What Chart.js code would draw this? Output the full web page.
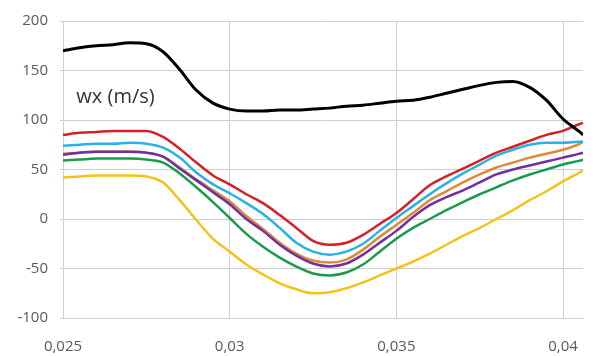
<!DOCTYPE html>
<html>
<head>
<meta charset="utf-8">
<script src="https://cdn.jsdelivr.net/npm/chart.js@4/dist/chart.umd.min.js"></script>
<style>
  html, body { margin: 0; padding: 0; background: #fff; }
  #wrap { width: 598px; height: 356px; }
</style>
</head>
<body>
<div id="wrap"><canvas id="chart" width="598" height="356"></canvas></div>
<script>
// x positions (s) shared by every series
const xValues = [
  0.025, 0.0255, 0.026, 0.0265, 0.027, 0.0275, 0.028, 0.0285, 0.029, 0.0295,
  0.03, 0.0305, 0.031, 0.0315, 0.032, 0.0325, 0.033, 0.0335, 0.034, 0.0345,
  0.035, 0.0355, 0.036, 0.0365, 0.037, 0.0375, 0.038, 0.0385, 0.039, 0.0395,
  0.04, 0.0405, 0.0406
];

const blackVals = [170, 173, 175, 176, 178, 177, 169, 151, 130, 117, 111, 109, 109, 110, 110, 111, 112, 114, 115, 117, 119, 120, 123, 127, 131, 135, 138, 139, 133, 120, 101, 88, 85];
const redVals = [85, 87, 88, 89, 89, 89, 83, 71, 57, 44, 35, 25, 16, 4, -9, -22, -26, -24, -16, -5, 6, 20, 34, 43, 51, 59, 67, 73, 79, 85, 89, 96, 97];
const cyanVals = [74, 75, 76, 76, 77, 76, 72, 62, 47, 35, 26, 16, 5, -9, -24, -33, -36, -33, -25, -12, 1, 13, 25, 36, 46, 55, 64, 70, 75, 77, 77, 78, 78];
const purpleVals = [65, 67, 68, 68, 68, 67, 63, 51, 39, 27, 15, 0, -12, -26, -37, -45, -48, -45, -36, -24, -12, 2, 14, 22, 29, 37, 45, 50, 54, 58, 62, 66, 67];
const orangeVals = [66, 67, 68, 68, 68, 67, 63, 52, 40, 29, 18, 3, -10, -24, -35, -42, -44, -41, -31, -18, -6, 6, 19, 28, 37, 45, 52, 57, 62, 66, 70, 76, 78];
const greenVals = [59, 60, 61, 61, 61, 60, 57, 46, 32, 17, 1, -15, -28, -39, -48, -55, -57, -54, -46, -33, -20, -9, 0, 9, 17, 25, 32, 39, 45, 50, 55, 59, 60];
const yellowVals = [42, 43, 44, 44, 44, 43, 37, 19, -1, -20, -33, -46, -56, -65, -71, -75, -74, -70, -64, -57, -50, -43, -35, -26, -17, -9, 0, 9, 19, 28, 38, 47, 49];

const seriesList = [
  { name: 'black', vals: blackVals, color: '#000000', width: 3 },
  { name: 'red', vals: redVals, color: '#d42028', width: 2.5 },
  { name: 'cyan', vals: cyanVals, color: '#2ab2e2', width: 2.5 },
  { name: 'purple', vals: purpleVals, color: '#7030a0', width: 2.5 },
  { name: 'orange', vals: orangeVals, color: '#e0873a', width: 2.5 },
  { name: 'green', vals: greenVals, color: '#1c9a4c', width: 2.5 },
  { name: 'yellow', vals: yellowVals, color: '#f2c31c', width: 2.5 },
];

const xTicks = [0.025, 0.03, 0.035, 0.04];
const yMin = -100, yMax = 200, yStep = 50;
const xMin = 0.025, xMax = 0.0406;

const label = { text: 'wx (m/s)', x: 0.0254, y: 117 };

const gridColor = '#cfcfcf';
const tickColor = '#595959';

const labelPlugin = {
  id: 'wxLabel',
  afterDatasetsDraw(chart) {
    const ctx = chart.ctx;
    const px = chart.scales.x.getPixelForValue(label.x);
    const py = chart.scales.y.getPixelForValue(label.y);
    ctx.save();
    ctx.font = '20px "Open Sans"';
    ctx.fillStyle = '#333333';
    ctx.textAlign = 'left';
    ctx.textBaseline = 'alphabetic';
    ctx.fillText(label.text, px, py);
    ctx.restore();
  }
};

new Chart(document.getElementById('chart'), {
  type: 'line',
  data: {
    datasets: seriesList.map((s) => ({
      label: s.name,
      data: s.vals.map((v, i) => ({ x: xValues[i], y: v })),
      borderColor: s.color,
      borderWidth: s.width,
      pointRadius: 0,
      fill: false,
      cubicInterpolationMode: 'monotone',
    })),
  },
  options: {
    responsive: false,
    animation: false,
    layout: { padding: { left: 0, right: 4, top: 14, bottom: 0 } },
    plugins: { legend: { display: false }, tooltip: { enabled: false } },
    scales: {
      x: {
        type: 'linear',
        min: xMin,
        max: xMax,
        afterBuildTicks: (scale) => { scale.ticks = xTicks.map((v) => ({ value: v })); },
        afterFit: (scale) => { scale.height = 38; },
        grid: { color: gridColor, drawTicks: false },
        border: { color: gridColor },
        ticks: {
          color: tickColor,
          font: { family: '"Open Sans"', size: 15 },
          padding: 20,
          maxRotation: 0,
          autoSkip: false,
          callback: (v) => String(Number(v.toFixed(4))).replace('.', ','),
        },
      },
      y: {
        min: yMin,
        max: yMax,
        afterFit: (scale) => { scale.width = 63; },
        grid: { color: gridColor, tickLength: 3 },
        border: { color: gridColor },
        ticks: {
          stepSize: yStep,
          color: tickColor,
          font: { family: '"Open Sans"', size: 15 },
          padding: 12,
        },
      },
    },
  },
  plugins: [labelPlugin],
});
</script>
</body>
</html>
